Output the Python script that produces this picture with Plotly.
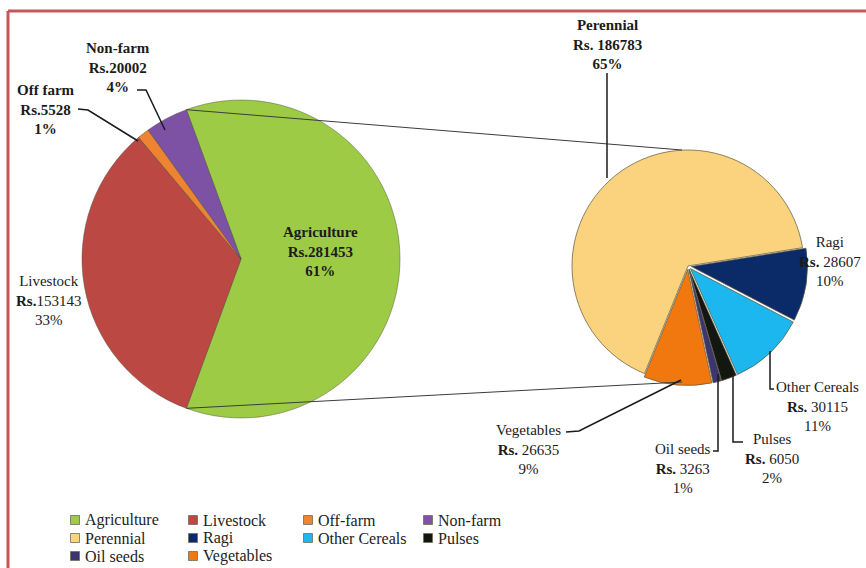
import math
import plotly.graph_objects as go

W, H = 866, 568

# Income by source (main pie)
main_labels = ["Agriculture", "Livestock", "Off farm", "Non-farm"]
main_legend = ["Agriculture", "Livestock", "Off-farm", "Non-farm"]
main_values = [281453, 153143, 5528, 20002]
main_pct = ["61%", "33%", "1%", "4%"]
main_colors = ["#9DCB45", "#BC4844", "#EE8430", "#7D52A5"]

# Break-up of agriculture income (secondary pie)
sub_labels = ["Perennial", "Ragi", "Other Cereals", "Pulses", "Oil seeds", "Vegetables"]
sub_values = [186783, 28607, 30115, 6050, 3263, 26635]
sub_pct = ["65%", "10%", "11%", "2%", "1%", "9%"]
sub_colors = ["#FBD37E", "#0B2A68", "#1BB7EE", "#121710", "#3B3570", "#F0780F"]

FONT = "'Liberation Serif', 'Times New Roman', 'DejaVu Serif', serif"


def px(x, y):
    """Pixel position -> paper coordinates."""
    return x / W, 1 - y / H


# pie geometry (pixels)
MCX, MCY, MR = 241, 259, 159
SCX, SCY, SR = 688, 266, 116
SUB_PULL = 0.03

agri_share = main_values[0] / sum(main_values)
main_rotation = 90 - agri_share * 180  # agriculture slice faces the secondary pie

fig = go.Figure()

fig.add_trace(go.Pie(
    labels=main_legend, values=main_values, sort=False, direction="clockwise",
    rotation=main_rotation, textinfo="none", hoverinfo="label+value",
    marker=dict(colors=main_colors, line=dict(color="rgba(70,70,50,0.55)", width=0.8)),
    domain=dict(x=[(MCX - MR) / W, (MCX + MR) / W],
                y=[1 - (MCY + MR) / H, 1 - (MCY - MR) / H]),
    showlegend=False,
))

half = SR * (1 + SUB_PULL)
fig.add_trace(go.Pie(
    labels=sub_labels, values=sub_values, sort=False, direction="clockwise",
    rotation=202, textinfo="none", hoverinfo="label+value",
    pull=[0] + [SUB_PULL] * (len(sub_values) - 1),
    marker=dict(colors=sub_colors, line=dict(color="rgba(90,85,60,0.7)", width=1)),
    domain=dict(x=[(SCX - half) / W, (SCX + half) / W],
                y=[1 - (SCY + half) / H, 1 - (SCY - half) / H]),
    showlegend=False,
))

shapes = []

# connector lines between the agriculture slice edges and the secondary pie
edge = math.radians(agri_share * 180)
for sgn in (1, -1):
    x0 = MCX + MR * math.cos(edge)
    y0 = MCY - sgn * MR * math.sin(edge)
    x1, y1 = SCX - 6, SCY - sgn * SR
    a, b = px(x0, y0)
    c, d = px(x1, y1)
    shapes.append(dict(type="line", xref="paper", yref="paper", x0=a, y0=b, x1=c, y1=d,
                       line=dict(color="#3c3c3c", width=1)))


def leader(points):
    coords = [px(x, y) for x, y in points]
    path = "M " + " L ".join(f"{x:.5f},{y:.5f}" for x, y in coords)
    shapes.append(dict(type="path", xref="paper", yref="paper", path=path,
                       line=dict(color="#1a1a1a", width=1.5)))


leader([(137, 90), (146, 90), (165, 130)])          # Non-farm
leader([(78, 109), (88, 110), (138, 141)])          # Off farm
leader([(607, 73), (607, 178)])                      # Perennial
leader([(770, 351), (770, 389), (774, 389)])        # Other Cereals
leader([(733, 374), (733, 442), (743, 442)])        # Pulses
leader([(718, 374), (718, 451), (713, 451)])        # Oil seeds
leader([(566, 432), (579, 431), (681, 380)])        # Vegetables

# chart frame
shapes.append(dict(type="line", xref="paper", yref="paper",
                   x0=px(8, 11)[0], y0=px(8, 11)[1], x1=px(8, 568)[0], y1=px(8, 568)[1],
                   line=dict(color="#C4575A", width=3)))
shapes.append(dict(type="line", xref="paper", yref="paper",
                   x0=px(8, 11)[0], y0=px(8, 11)[1], x1=1, y1=px(866, 11)[1],
                   line=dict(color="#C4575A", width=3)))

annotations = []

# data labels: centre x, centre y, bold
label_pos = {
    "Agriculture": (320, 251, True),
    "Livestock": (48, 300, False),
    "Off farm": (46, 110, True),
    "Non-farm": (118, 67, True),
    "Perennial": (607, 45, True),
    "Ragi": (830, 262, False),
    "Other Cereals": (817, 406, False),
    "Pulses": (772, 458, False),
    "Oil seeds": (683, 468, False),
    "Vegetables": (528, 449, False),
}

for names, values, pcts in ((main_labels, main_values, main_pct),
                            (sub_labels, sub_values, sub_pct)):
    for name, val, pct in zip(names, values, pcts):
        cx, cy, bold = label_pos[name]
        sep = "" if names is main_labels else " "
        text = f"{name}<br><b>Rs.</b>{sep}{val}<br>{pct}"
        if bold:
            text = f"<b>{text}</b>"
        x, y = px(cx, cy)
        annotations.append(dict(x=x, y=y, xref="paper", yref="paper", text=text,
                                showarrow=False, xanchor="center", yanchor="middle",
                                align="center",
                                font=dict(family=FONT, size=15, color="#1b1b1b")))

# legend grid, four entries per row
legend_names = main_legend + sub_labels
legend_colors = main_colors + sub_colors
col_x = [75, 193, 308, 428]
row_y = [520, 538, 556]
for i, (name, col) in enumerate(zip(legend_names, legend_colors)):
    cx = col_x[i % 4]
    cy = row_y[i // 4]
    a, b = px(cx - 4.5, cy - 4.5)
    c, d = px(cx + 4.5, cy + 4.5)
    shapes.append(dict(type="rect", xref="paper", yref="paper", x0=a, y0=b, x1=c, y1=d,
                       fillcolor=col, line=dict(color="rgba(110,110,90,0.8)", width=1)))
    x, y = px(cx + 8, cy)
    annotations.append(dict(x=x, y=y, xref="paper", yref="paper", text=name,
                            showarrow=False, xanchor="left", yanchor="middle",
                            font=dict(family=FONT, size=16, color="#222222")))

fig.update_layout(
    width=W, height=H,
    margin=dict(l=0, r=0, t=0, b=0),
    paper_bgcolor="white", plot_bgcolor="white",
    font=dict(family=FONT),
    shapes=shapes, annotations=annotations,
    showlegend=False,
)

fig.write_html("out.html")
